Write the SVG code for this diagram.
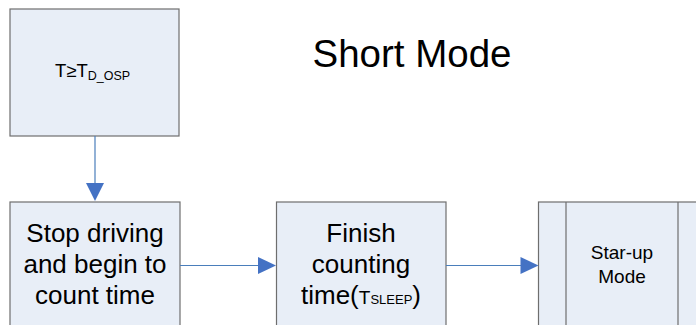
<svg xmlns="http://www.w3.org/2000/svg" width="696" height="325" viewBox="0 0 696 325">
<style>
.box{fill:#E8EEF7;stroke:#6E6E6E;stroke-width:1.2}
.t{font-family:"Liberation Sans",Arial,sans-serif;fill:#000}
.c{stroke:#4A7EBB;stroke-width:1.2;fill:none}
.ah{fill:#4472C4}
</style>
<rect width="696" height="325" fill="#fff"/>
<text class="t" x="412" y="67" font-size="38.5" text-anchor="middle">Short Mode</text>
<g id="n1">
<rect class="box" x="10" y="9" width="169" height="127"/>
<text class="t" x="55" y="77" font-size="18.5">T≥T<tspan font-size="12.5" dy="3">D_OSP</tspan></text>
</g>
<g id="n2">
<rect class="box" x="10" y="202" width="170" height="140"/>
<text class="t" font-size="26" text-anchor="middle"><tspan x="95" y="242">Stop driving</tspan><tspan x="95" y="272.5">and begin to</tspan><tspan x="95" y="303.5">count time</tspan></text>
</g>
<g id="n3">
<rect class="box" x="276.5" y="202" width="169.5" height="140"/>
<text class="t" font-size="26" text-anchor="middle"><tspan x="361" y="242">Finish</tspan><tspan x="361" y="272.5">counting</tspan><tspan x="361" y="303.5">time(<tspan font-size="19">T</tspan><tspan font-size="13">SLEEP</tspan>)</tspan></text>
</g>
<g id="n4">
<rect class="box" x="538.5" y="202" width="172" height="140"/>
<line x1="566" y1="202" x2="566" y2="342" stroke="#6E6E6E" stroke-width="1.2"/>
<line x1="678" y1="202" x2="678" y2="342" stroke="#6E6E6E" stroke-width="1.2"/>
<text class="t" font-size="19" text-anchor="middle"><tspan x="622" y="258.5">Star-up</tspan><tspan x="622" y="282.5">Mode</tspan></text>
</g>
<g id="connectors">
<line class="c" x1="95" y1="136" x2="95" y2="184"/>
<polygon class="ah" points="86,183 104,183 95,201"/>
<line class="c" x1="180" y1="265.5" x2="259" y2="265.5"/>
<polygon class="ah" points="258,257 258,274 276,265.5"/>
<line class="c" x1="446" y1="265.5" x2="521" y2="265.5"/>
<polygon class="ah" points="520.5,257 520.5,274 538.5,265.5"/>
</g>
</svg>
